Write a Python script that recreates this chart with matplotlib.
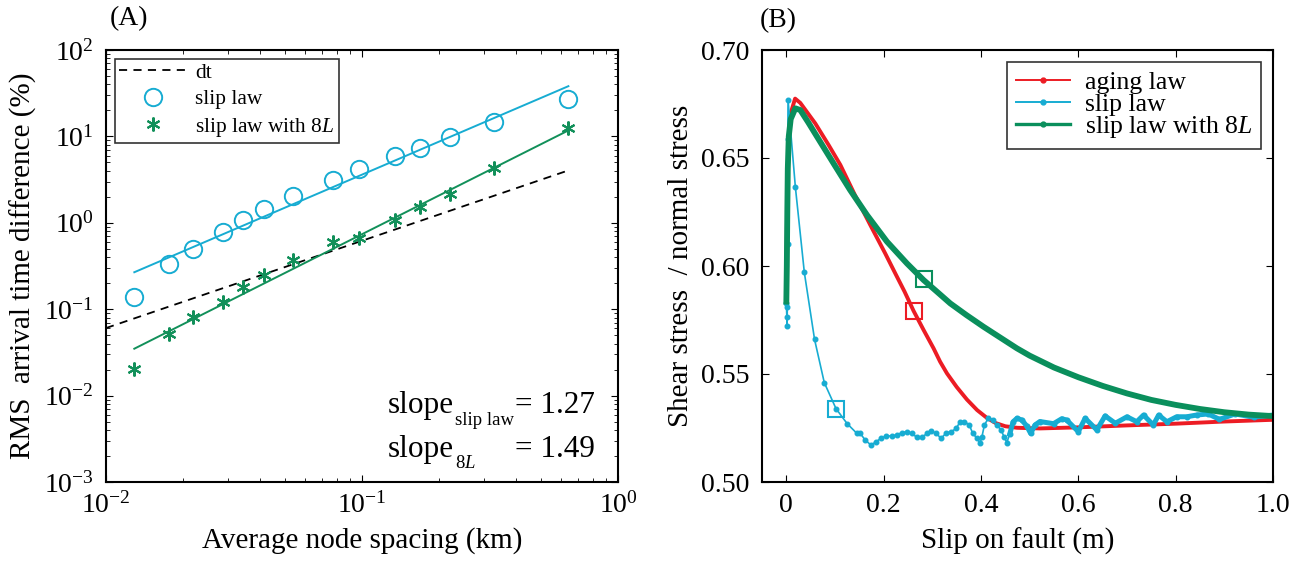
import numpy as np
import matplotlib
matplotlib.use("Agg")
import matplotlib.pyplot as plt
from matplotlib.lines import Line2D
from matplotlib.ticker import LogLocator, NullFormatter

plt.rcParams['font.family'] = ['Liberation Serif', 'DejaVu Serif']
plt.rcParams['mathtext.fontset'] = 'custom'
plt.rcParams['mathtext.rm'] = 'Liberation Serif'
plt.rcParams['mathtext.it'] = 'Liberation Serif:italic'
plt.rcParams['mathtext.bf'] = 'Liberation Serif:bold'

# ---------------- Panel A data ----------------
spacing_km = [0.0129, 0.0177, 0.0219, 0.0287, 0.0342, 0.0415, 0.0536, 0.0769,
              0.0977, 0.135, 0.168, 0.221, 0.327, 0.64]
rms_slip = [0.14, 0.33, 0.50, 0.785, 1.07, 1.45, 2.03, 3.16, 4.18, 5.96, 7.3,
            9.95, 14.8, 27.0]
rms_slip8L = [0.0204, 0.0516, 0.0817, 0.122, 0.183, 0.247, 0.371, 0.603, 0.67,
              1.09, 1.52, 2.17, 4.29, 12.4]
dt_x = [0.01, 0.64]
dt_y = [0.0605, 4.04]
slip_slope, slip_coef = 1.27, 67.2
s8_slope, s8_coef = 1.49, 22.8

# ---------------- Panel B data ----------------
red_x = [0.0, 0.001, 0.002, 0.004, 0.008, 0.018, 0.0287, 0.0595, 0.0869, 0.111,
         0.1417, 0.1725, 0.203, 0.2238, 0.243, 0.2615, 0.282, 0.3025, 0.316, 0.33,
         0.35, 0.371, 0.392, 0.412, 0.43, 0.45, 0.474, 0.521, 0.6, 0.7, 0.8, 0.9, 1.0]
red_y = [0.595, 0.615, 0.635, 0.655, 0.670, 0.6775, 0.6755, 0.666, 0.656, 0.6468,
         0.6325, 0.619, 0.6059, 0.5966, 0.5881, 0.5792, 0.5704, 0.5619, 0.5557, 0.5503,
         0.5440, 0.5382, 0.5333, 0.5297, 0.5273, 0.5258, 0.5251, 0.5248, 0.5253, 0.5262,
         0.527, 0.528, 0.5288]

green_x = [0.0, 0.001, 0.002, 0.003, 0.005, 0.009, 0.0185, 0.0287, 0.045, 0.063,
           0.097, 0.131, 0.1657, 0.2067, 0.2478, 0.282, 0.31, 0.3368, 0.37, 0.405,
           0.44, 0.4737, 0.5, 0.55, 0.6, 0.65, 0.7, 0.75, 0.8, 0.85, 0.9, 0.95, 1.0]
green_y = [0.5835, 0.60, 0.625, 0.645, 0.660, 0.668, 0.673, 0.6722, 0.6665, 0.6599,
           0.6475, 0.6352, 0.6236, 0.6113, 0.6012, 0.5935, 0.588, 0.5827, 0.5773, 0.5719,
           0.5668, 0.5619, 0.5585, 0.553, 0.5485, 0.5445, 0.541, 0.538, 0.5357, 0.5338,
           0.5323, 0.5312, 0.5305]

cyan_x = [0.0, 0.001, 0.0015, 0.002, 0.0025, 0.003, 0.0035, 0.0185, 0.037, 0.058,
          0.078, 0.102, 0.125, 0.145, 0.152, 0.162, 0.174, 0.185, 0.194, 0.205,
          0.217, 0.227, 0.237, 0.248, 0.258, 0.268, 0.279, 0.289, 0.298, 0.308,
          0.318, 0.329, 0.339, 0.349, 0.357, 0.366, 0.376, 0.383, 0.392, 0.398,
          0.402, 0.407, 0.415, 0.424, 0.433, 0.441, 0.448, 0.453, 0.459, 0.466,
          0.474, 0.484, 0.494, 0.502, 0.511, 0.521, 0.549, 0.566, 0.576, 0.600,
          0.614, 0.638, 0.655, 0.676, 0.700, 0.720, 0.734, 0.754, 0.765, 0.782,
          0.802, 0.823, 0.843, 0.867, 0.89, 0.922, 0.96, 1.0]
cyan_y = [0.583, 0.5765, 0.572, 0.581, 0.61, 0.6587, 0.677, 0.6367, 0.597, 0.566,
          0.546, 0.534, 0.527, 0.5225, 0.5225, 0.5194, 0.5171, 0.5187, 0.5202, 0.5213,
          0.5213, 0.5218, 0.5228, 0.5233, 0.5225, 0.5207, 0.5207, 0.5225, 0.5236, 0.5225,
          0.5202, 0.5228, 0.5233, 0.5248, 0.5279, 0.528, 0.5264, 0.5225, 0.5202, 0.5179,
          0.521, 0.5264, 0.5295, 0.5287, 0.5264, 0.5241, 0.5207, 0.5182, 0.5222, 0.5279,
          0.5295, 0.5287, 0.5259, 0.5225, 0.5264, 0.528, 0.527, 0.5293, 0.5287, 0.5233,
          0.5295, 0.5241, 0.5306, 0.5272, 0.5302, 0.5279, 0.531, 0.5264, 0.531, 0.5279,
          0.5302, 0.5302, 0.531, 0.5315, 0.529, 0.5315, 0.530, 0.531]

square_x = [0.263, 0.102, 0.282]
square_y = [0.579, 0.534, 0.5938]

RED = '#ec1c24'
CYAN = '#17acd2'
GREEN = '#0a8f5c'
STAR_GREEN = '#12905a'

fig = plt.figure(figsize=(13.07, 5.61), dpi=100)
axA = fig.add_axes([106/1307, 79/561, 512/1307, 432/561])
axB = fig.add_axes([762/1307, 79/561, 511/1307, 432/561])

TICK_FS = 20
LABEL_FS = 21

# ---------------- Panel A ----------------
xs = np.array(spacing_km)
axA.plot(dt_x, dt_y, color='black', lw=1.3, ls=(0, (4.5, 3.5)), label='dt')
axA.plot([xs[0], xs[-1]], [slip_coef * xs[0]**slip_slope, slip_coef * xs[-1]**slip_slope],
         color=CYAN, lw=1.4)
axA.plot([xs[0], xs[-1]], [s8_coef * xs[0]**s8_slope, s8_coef * xs[-1]**s8_slope],
         color=STAR_GREEN, lw=1.4)
axA.plot(spacing_km, rms_slip, ls='none', marker='o', ms=12.5, mfc='none',
         mec=CYAN, mew=1.4, label='slip law')
axA.plot(spacing_km, rms_slip8L, ls='none', marker=(6, 2, 0), ms=10,
         mec=STAR_GREEN, mew=1.5, label='slip law with 8$L$')
axA.set_xscale('log')
axA.set_yscale('log')
axA.set_xlim(1e-2, 1)
axA.set_ylim(1e-3, 1e2)
axA.tick_params(which='both', direction='in', top=True, right=True, labelsize=TICK_FS)
axA.tick_params(which='major', length=5, width=0.8)
axA.tick_params(axis='x', which='major', pad=7)
axA.tick_params(axis='y', which='major', pad=9)
axA.tick_params(which='minor', length=3, width=0.6)
axA.xaxis.set_minor_locator(LogLocator(base=10, subs=np.arange(2, 10), numticks=20))
axA.yaxis.set_minor_locator(LogLocator(base=10, subs=np.arange(2, 10), numticks=20))
axA.xaxis.set_minor_formatter(NullFormatter())
axA.yaxis.set_minor_formatter(NullFormatter())
for s in axA.spines.values():
    s.set_linewidth(1.5)
axA.set_xlabel('Average node spacing (km)', fontsize=LABEL_FS)
axA.xaxis.set_label_coords(0.5, -0.105)
axA.set_ylabel('RMS  arrival time difference (%)', fontsize=LABEL_FS)
axA.yaxis.set_label_coords(-0.134, 0.5)
legA = axA.legend(loc='upper left', fontsize=15.4, frameon=True, fancybox=False,
                  edgecolor='black', handlelength=3.2, handletextpad=0.36,
                  borderaxespad=0.4, borderpad=0.2, labelspacing=0.3, numpoints=1)
legA.get_frame().set_linewidth(1.2)
SLOPE_FS = 22.5
SUB_FS = 13.5
axA.text(0.551, 0.1597, 'slope', transform=axA.transAxes, fontsize=SLOPE_FS,
         ha='left', va='baseline')
axA.text(0.6816, 0.132, 'slip law', transform=axA.transAxes, fontsize=SUB_FS,
         ha='left', va='baseline')
axA.text(0.955, 0.1597, '= 1.27', transform=axA.transAxes, fontsize=SLOPE_FS,
         ha='right', va='baseline')
axA.text(0.551, 0.0579, 'slope', transform=axA.transAxes, fontsize=SLOPE_FS,
         ha='left', va='baseline')
axA.text(0.6816, 0.0324, '8$L$', transform=axA.transAxes, fontsize=SUB_FS,
         ha='left', va='baseline')
axA.text(0.955, 0.0579, '= 1.49', transform=axA.transAxes, fontsize=SLOPE_FS,
         ha='right', va='baseline')
fig.text(110/1307, 1 - 19/561, '(A)', fontsize=20, ha='left', va='center')

# ---------------- Panel B ----------------
axB.plot(red_x, red_y, color=RED, lw=2.8, solid_joinstyle='round')
axB.plot(cyan_x, cyan_y, color=CYAN, lw=1.2, marker='o', ms=3.3)
cx = np.array(cyan_x); cy = np.array(cyan_y)
tail = cx >= 0.455
axB.plot(cx[tail], cy[tail], color=CYAN, lw=3.6, solid_joinstyle='round')
axB.plot(green_x, green_y, color=GREEN, lw=4.2, solid_joinstyle='round')
sq_colors = [RED, CYAN, GREEN]
for sx, sy, c in zip(square_x, square_y, sq_colors):
    axB.plot([sx], [sy], ls='none', marker='s', ms=12, mfc='none', mec=c, mew=1.5)
axB.set_xlim(-0.05, 1.0)
axB.set_ylim(0.5, 0.7)
axB.set_xticks([0, 0.2, 0.4, 0.6, 0.8, 1.0])
axB.set_xticklabels(['0', '0.2', '0.4', '0.6', '0.8', '1.0'])
axB.set_yticks([0.5, 0.55, 0.6, 0.65, 0.7])
axB.set_yticklabels(['0.50', '0.55', '0.60', '0.65', '0.70'])
axB.tick_params(direction='in', top=True, right=True, labelsize=TICK_FS, length=5,
                width=0.8)
axB.tick_params(axis='x', pad=8)
axB.tick_params(axis='y', pad=9)
for s in axB.spines.values():
    s.set_linewidth(1.5)
axB.set_xlabel('Slip on fault (m)', fontsize=LABEL_FS)
axB.xaxis.set_label_coords(0.5, -0.105)
axB.set_ylabel('Shear stress  / normal stress', fontsize=LABEL_FS)
axB.yaxis.set_label_coords(-0.134, 0.5)
handles = [Line2D([], [], color=RED, lw=1.4, marker='o', ms=3.5),
           Line2D([], [], color=CYAN, lw=1.4, marker='o', ms=3.5),
           Line2D([], [], color=GREEN, lw=2.4, marker='o', ms=3.5)]
legB = axB.legend(handles, ['aging law', 'slip law', 'slip law with 8$L$'],
                  loc='upper right', fontsize=18.5, frameon=True, fancybox=False,
                  edgecolor='black', handlelength=2.1, handletextpad=0.6,
                  borderaxespad=0.45, borderpad=0.35, labelspacing=-0.04, numpoints=1)
legB.get_frame().set_linewidth(1.2)
fig.text(760/1307, 1 - 21/561, '(B)', fontsize=20, ha='left', va='center')

fig.savefig('out.png', dpi=100)
